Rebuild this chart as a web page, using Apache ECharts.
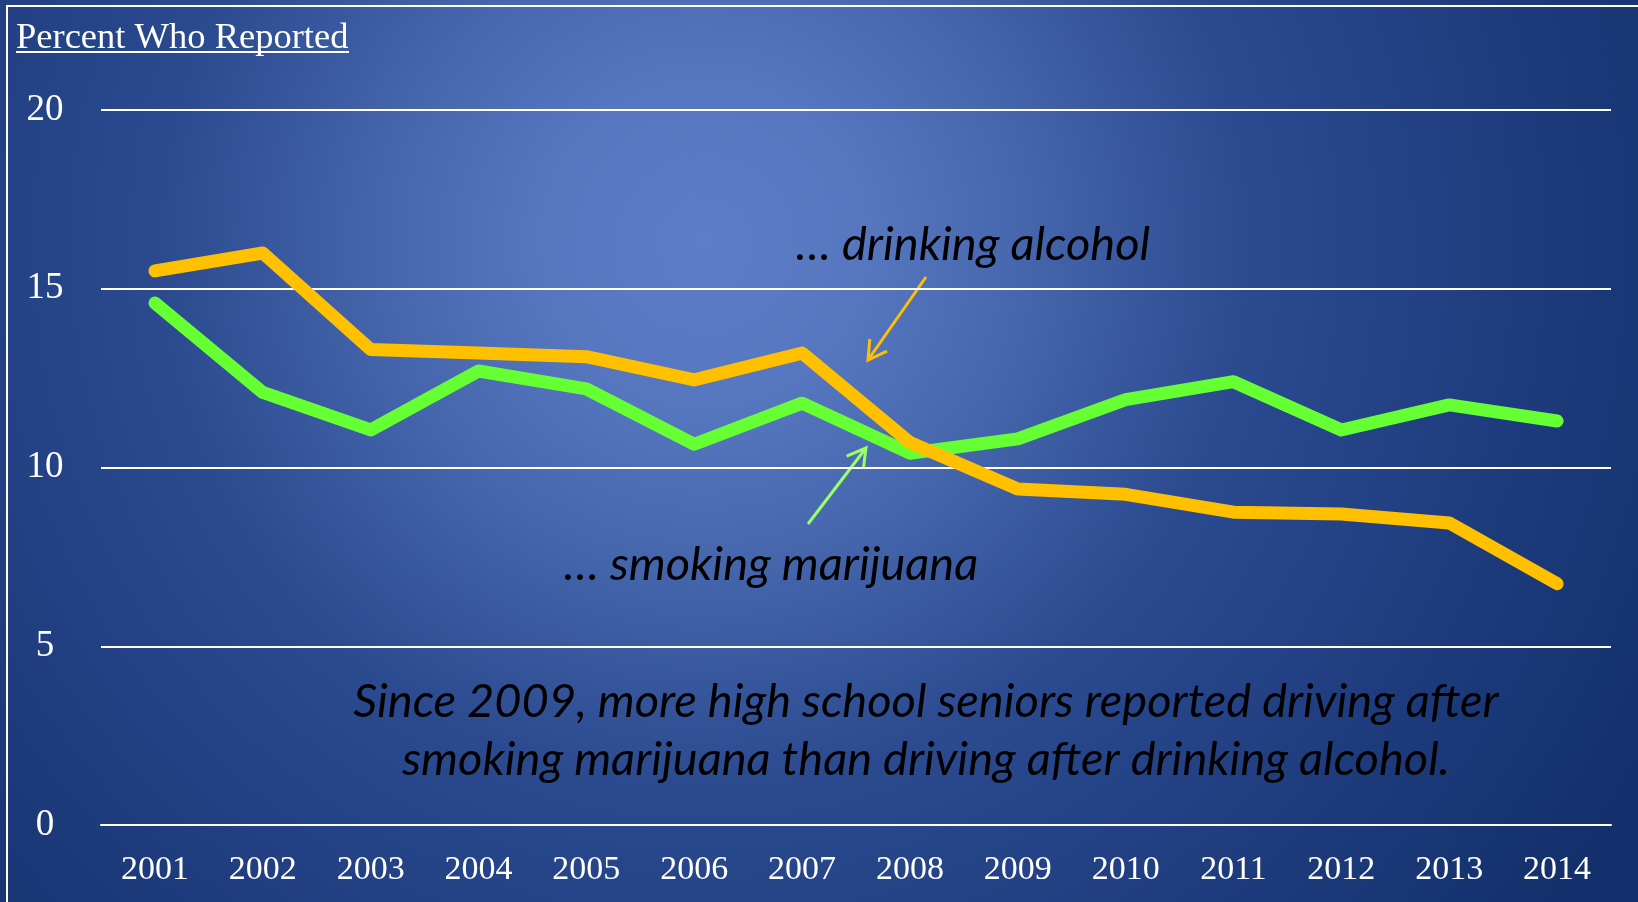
<!DOCTYPE html>
<html>
<head>
<meta charset="utf-8">
<title>Driving after drinking alcohol vs smoking marijuana</title>
<script src="https://cdn.jsdelivr.net/npm/echarts@6.0.0/dist/echarts.min.js"></script>
<style>
  html, body { margin: 0; padding: 0; background: #14306e; }
  #chart { width: 1638px; height: 902px; }
</style>
</head>
<body>
<div id="chart"></div>
<script>
// data
var years = ['2001', '2002', '2003', '2004', '2005', '2006', '2007', '2008', '2009', '2010', '2011', '2012', '2013', '2014']
var alcohol = [15.5, 16.0, 13.3, 13.2, 13.1, 12.45, 13.2, 10.7, 9.4, 9.25, 8.75, 8.7, 8.45, 6.75]
var marijuana = [14.6, 12.1, 11.05, 12.7, 12.2, 10.65, 11.8, 10.4, 10.8, 11.9, 12.4, 11.05, 11.75, 11.3]
var yTicks = [0, 5, 10, 15, 20]

var serif = '"Liberation Serif", "DejaVu Serif", serif'
var sans = 'Lato, "Open Sans", "Noto Sans", sans-serif'

// small arrow: shaft + head, in pixels
function arrow (x1, y1, x2, y2, color) {
  var dx = x2 - x1, dy = y2 - y1
  var len = Math.sqrt(dx * dx + dy * dy)
  var ux = dx / len, uy = dy / len
  var h = 21, a = Math.PI / 6
  var c = Math.cos(a), s = Math.sin(a)
  var w1 = [x2 - h * (ux * c - uy * s), y2 - h * (uy * c + ux * s)]
  var w2 = [x2 - h * (ux * c + uy * s), y2 - h * (uy * c - ux * s)]
  return [
    { type: 'line', shape: { x1: x1, y1: y1, x2: x2, y2: y2 }, style: { stroke: color, lineWidth: 3 } },
    { type: 'polyline', shape: { points: [w1, [x2, y2], w2] }, style: { stroke: color, lineWidth: 3, fill: null } }
  ]
}

var chart = echarts.init(document.getElementById('chart'))

var option = {
  animation: false,
  backgroundColor: {
    type: 'radial', x: 0.43, y: 0.27, r: 1.2,
    colorStops: [
      { offset: 0, color: '#5d7dc8' },
      { offset: 0.15, color: '#5676c0' },
      { offset: 0.3, color: '#4565ac' },
      { offset: 0.5, color: '#2b4a90' },
      { offset: 0.8, color: '#1c397a' },
      { offset: 1, color: '#13306c' }
    ]
  },
  grid: { left: 101, right: 27, top: 110, bottom: 77, containLabel: false },
  xAxis: {
    type: 'category',
    data: years,
    boundaryGap: true,
    axisTick: { show: false },
    axisLine: { lineStyle: { color: '#ffffff', width: 2 } },
    axisLabel: { color: '#ffffff', fontFamily: serif, fontSize: 34, margin: 28 }
  },
  yAxis: {
    type: 'value',
    min: 0,
    max: 20,
    interval: 5,
    axisLine: { show: false },
    axisTick: { show: false },
    splitLine: { lineStyle: { color: '#ffffff', width: 2 } },
    axisLabel: {
      color: '#ffffff', fontFamily: serif, fontSize: 37, margin: 56, align: 'center',
      customValues: yTicks
    }
  },
  series: [
    {
      name: 'smoking marijuana',
      type: 'line',
      data: marijuana,
      symbol: 'none',
      lineStyle: { color: '#66ff33', width: 13, cap: 'round', join: 'round' }
    },
    {
      name: 'drinking alcohol',
      type: 'line',
      data: alcohol,
      symbol: 'none',
      lineStyle: { color: '#ffc000', width: 13, cap: 'round', join: 'round' }
    }
  ],
  graphic: [
    { type: 'rect', shape: { x: 7, y: 6, width: 1700, height: 1000 }, style: { fill: null, stroke: '#ffffff', lineWidth: 2 }, silent: true },
    { type: 'text', x: 16, y: 20, style: { text: 'Percent Who Reported', fill: '#ffffff', font: '36.5px ' + serif } },
    { type: 'rect', shape: { x: 16, y: 51, width: 333, height: 2 }, style: { fill: '#ffffff' } },
    { type: 'text', x: 973, y: 245, style: { text: '… drinking alcohol', fill: '#000000', font: 'italic 47px ' + sans, align: 'center', verticalAlign: 'middle' } },
    { type: 'text', x: 771, y: 565, style: { text: '… smoking marijuana', fill: '#000000', font: 'italic 47px ' + sans, align: 'center', verticalAlign: 'middle' } },
    { type: 'text', x: 926, y: 702, style: { text: 'Since 2009, more high school seniors reported driving after', fill: '#000000', font: 'italic 47px ' + sans, align: 'center', verticalAlign: 'middle' } },
    { type: 'text', x: 926, y: 760, style: { text: 'smoking marijuana than driving after drinking alcohol.', fill: '#000000', font: 'italic 47px ' + sans, align: 'center', verticalAlign: 'middle' } }
  ].concat(arrow(926, 277, 868, 360, '#ffc000'))
   .concat(arrow(808, 524, 866, 448, '#99ff66'))
}

chart.setOption(option)
</script>
</body>
</html>
